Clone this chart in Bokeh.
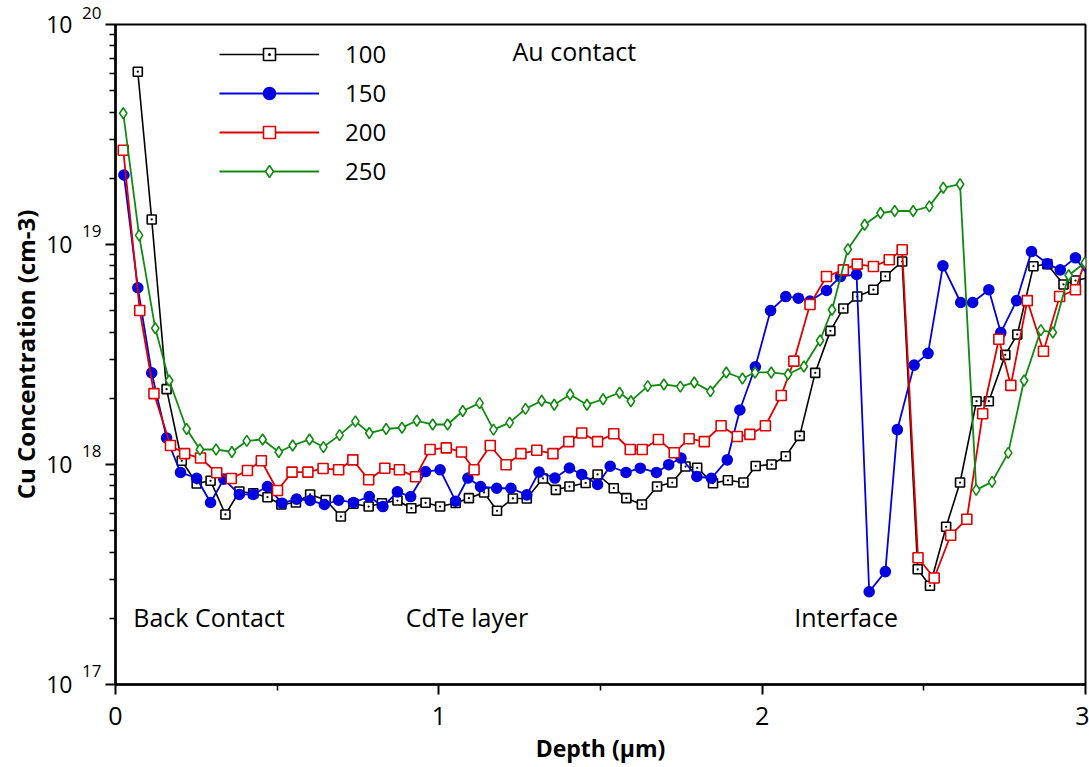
from bokeh.plotting import figure
from bokeh.models import (Range1d, FixedTicker, Legend, LegendItem, Label,
                          CustomJSTickFormatter, LogAxis)
from bokeh.embed import file_html
from bokeh.resources import INLINE

# ---------------- data ----------------
x100 = [0.069, 0.112, 0.158, 0.205, 0.251, 0.294, 0.340, 0.383, 0.426, 0.470,
        0.513, 0.558, 0.602, 0.650, 0.697, 0.736, 0.783, 0.824, 0.872, 0.915,
        0.959, 1.004, 1.052, 1.093, 1.140, 1.180, 1.229, 1.272, 1.322, 1.362,
        1.404, 1.454, 1.491, 1.541, 1.580, 1.628, 1.675, 1.722, 1.763, 1.799,
        1.848, 1.894, 1.942, 1.980, 2.029, 2.073, 2.116, 2.164, 2.211, 2.251,
        2.294, 2.344, 2.381, 2.433, 2.481, 2.519, 2.569, 2.612, 2.663, 2.701,
        2.752, 2.789, 2.839, 2.882, 2.932, 2.969, 3.025]
y100 = [6.1e19, 1.30e19, 2.2e18, 1.04e18, 8.2e17, 8.43e17, 5.93e17, 7.54e17, 7.40e17, 7.10e17,
        6.58e17, 6.72e17, 7.31e17, 6.90e17, 5.80e17, 6.63e17, 6.44e17, 6.67e17, 6.86e17, 6.33e17,
        6.70e17, 6.44e17, 6.68e17, 7.03e17, 7.46e17, 6.16e17, 7.01e17, 7.01e17, 8.64e17, 7.67e17,
        7.94e17, 8.24e17, 9.01e17, 7.80e17, 7.03e17, 6.58e17, 7.94e17, 8.28e17, 9.79e17, 9.66e17,
        8.22e17, 8.48e17, 8.28e17, 9.84e17, 1.00e18, 1.09e18, 1.35e18, 2.61e18, 4.05e18, 5.12e18,
        5.80e18, 6.23e18, 7.17e18, 8.37e18, 3.34e17, 2.81e17, 5.21e17, 8.28e17, 1.94e18, 1.94e18,
        3.15e18, 3.90e18, 7.97e18, 8.14e18, 6.58e18, 6.86e18, 7.15e18]

x150 = [0.026, 0.069, 0.112, 0.158, 0.201, 0.251, 0.294, 0.335, 0.383, 0.426,
        0.470, 0.515, 0.560, 0.602, 0.646, 0.690, 0.736, 0.785, 0.827, 0.872,
        0.913, 0.959, 1.004, 1.052, 1.090, 1.129, 1.179, 1.223, 1.272, 1.310,
        1.359, 1.404, 1.442, 1.491, 1.530, 1.579, 1.623, 1.673, 1.711, 1.749,
        1.798, 1.843, 1.892, 1.931, 1.979, 2.026, 2.073, 2.112, 2.148, 2.199,
        2.242, 2.292, 2.331, 2.381, 2.418, 2.470, 2.513, 2.559, 2.614, 2.651,
        2.701, 2.738, 2.787, 2.833, 2.882, 2.922, 2.969, 3.025]
y150 = [2.07e19, 6.36e18, 2.61e18, 1.32e18, 9.20e17, 8.66e17, 6.72e17, 8.58e17, 7.31e17, 7.31e17,
        7.94e17, 6.67e17, 6.96e17, 6.86e17, 6.58e17, 6.88e17, 6.72e17, 7.15e17, 6.44e17, 7.51e17,
        7.15e17, 9.29e17, 9.46e17, 6.81e17, 8.68e17, 7.94e17, 7.80e17, 7.80e17, 7.28e17, 9.24e17,
        8.68e17, 9.64e17, 9.01e17, 8.11e17, 9.82e17, 9.20e17, 9.62e17, 9.20e17, 9.98e17, 1.07e18,
        8.82e17, 8.66e17, 1.05e18, 1.77e18, 2.78e18, 5.01e18, 5.80e18, 5.70e18, 5.53e18, 6.18e18,
        7.15e18, 7.31e18, 2.64e17, 3.26e17, 1.44e18, 2.83e18, 3.20e18, 8.00e18, 5.45e18, 5.45e18,
        6.23e18, 3.98e18, 5.56e18, 9.29e18, 8.17e18, 7.67e18, 8.70e18, 6.65e18]

x200 = [0.024, 0.075, 0.119, 0.170, 0.214, 0.263, 0.313, 0.358, 0.408, 0.451,
        0.501, 0.546, 0.595, 0.642, 0.690, 0.734, 0.783, 0.833, 0.878, 0.928,
        0.973, 1.023, 1.070, 1.109, 1.159, 1.208, 1.254, 1.303, 1.353, 1.402,
        1.442, 1.491, 1.541, 1.592, 1.629, 1.679, 1.728, 1.774, 1.821, 1.873,
        1.923, 1.962, 2.010, 2.059, 2.098, 2.148, 2.199, 2.251, 2.294, 2.344,
        2.393, 2.433, 2.482, 2.532, 2.583, 2.633, 2.682, 2.732, 2.769, 2.820,
        2.870, 2.920, 2.969, 3.019]
y200 = [2.68e19, 5.01e18, 2.10e18, 1.22e18, 1.12e18, 1.07e18, 9.17e17, 8.64e17, 9.39e17, 1.04e18,
        7.62e17, 9.23e17, 9.23e17, 9.59e17, 9.46e17, 1.05e18, 8.52e17, 9.62e17, 9.46e17, 8.79e17,
        1.17e18, 1.19e18, 1.14e18, 9.46e17, 1.22e18, 9.97e17, 1.12e18, 1.16e18, 1.12e18, 1.27e18,
        1.39e18, 1.27e18, 1.38e18, 1.17e18, 1.17e18, 1.30e18, 1.13e18, 1.31e18, 1.27e18, 1.50e18,
        1.34e18, 1.37e18, 1.50e18, 2.06e18, 2.95e18, 5.34e18, 7.15e18, 7.67e18, 8.14e18, 7.94e18,
        8.52e18, 9.46e18, 3.77e17, 3.05e17, 4.77e17, 5.64e17, 1.70e18, 3.71e18, 2.29e18, 5.56e18,
        3.27e18, 5.80e18, 6.23e18, 1.03e19]

x250 = [0.024, 0.073, 0.123, 0.166, 0.220, 0.261, 0.311, 0.360, 0.406, 0.455,
        0.505, 0.548, 0.600, 0.643, 0.693, 0.742, 0.785, 0.837, 0.886, 0.932,
        0.981, 1.027, 1.074, 1.126, 1.169, 1.219, 1.268, 1.318, 1.357, 1.406,
        1.458, 1.508, 1.559, 1.594, 1.646, 1.696, 1.747, 1.790, 1.840, 1.889,
        1.939, 1.978, 2.028, 2.080, 2.129, 2.179, 2.216, 2.265, 2.317, 2.366,
        2.410, 2.467, 2.517, 2.560, 2.612, 2.662, 2.711, 2.761, 2.810, 2.862,
        2.899, 2.948, 2.998]
y250 = [3.95e19, 1.10e19, 4.16e18, 2.41e18, 1.45e18, 1.17e18, 1.17e18, 1.14e18, 1.28e18, 1.30e18,
        1.14e18, 1.22e18, 1.30e18, 1.20e18, 1.36e18, 1.57e18, 1.39e18, 1.45e18, 1.47e18, 1.58e18,
        1.52e18, 1.52e18, 1.75e18, 1.90e18, 1.44e18, 1.55e18, 1.79e18, 1.95e18, 1.87e18, 2.08e18,
        1.87e18, 1.98e18, 2.12e18, 1.94e18, 2.27e18, 2.31e18, 2.26e18, 2.36e18, 2.15e18, 2.62e18,
        2.46e18, 2.62e18, 2.62e18, 2.57e18, 2.79e18, 3.66e18, 5.05e18, 9.52e18, 1.23e19, 1.39e19,
        1.42e19, 1.42e19, 1.49e19, 1.81e19, 1.88e19, 7.67e17, 8.34e17, 1.13e18, 2.41e18, 4.08e18,
        3.98e18, 7.25e18, 8.26e18]

series_names = ["100", "150", "200", "250"]
x_ticks = [0, 1, 2, 3]
x_minor = [0.5, 1.5, 2.5]
y_ticks = [1e17, 1e18, 1e19, 1e20]
y_minor = [m * 10 ** e for e in (17, 18, 19) for m in range(2, 10)]

FONT = "Open Sans"

p = figure(width=1089, height=767,
           x_range=Range1d(0, 3), y_range=Range1d(1e17, 1e20),
           y_axis_type="log", output_backend="svg", toolbar_location=None,
           min_border_left=115, min_border_right=4,
           min_border_top=24, min_border_bottom=83)
p.background_fill_color = "white"
p.border_fill_color = "white"
p.outline_line_color = "black"
p.outline_line_width = 2
p.xgrid.visible = False
p.ygrid.visible = False

# x axis
xa = p.xaxis[0]
xa.ticker = FixedTicker(ticks=x_ticks, minor_ticks=x_minor)
xa.major_label_standoff = 12
xa.axis_label = "Depth (µm)"
xa.axis_label_standoff = 4

# inner y axis: line, ticks and the (raised) exponents
ya = p.yaxis[0]
ya.ticker = FixedTicker(ticks=y_ticks, minor_ticks=y_minor)
ya.formatter = CustomJSTickFormatter(
    code="return String(Math.round(Math.log10(tick))) + '\\n';")
ya.major_label_standoff = 4
ya.major_label_text_font_size = "17px"

for ax in (xa, ya):
    ax.axis_line_width = 2.5
    ax.axis_line_color = "black"
    ax.major_tick_line_width = 2
    ax.minor_tick_line_width = 1.5
    ax.major_tick_in = 0
    ax.minor_tick_in = 0
    ax.major_tick_out = 10
    ax.minor_tick_out = 6
    ax.major_label_text_font = FONT
    ax.major_label_text_color = "black"
    ax.axis_label_text_font = FONT
    ax.axis_label_text_font_style = "bold"
    ax.axis_label_text_font_size = "23px"
    ax.axis_label_text_color = "black"
xa.major_label_text_font_size = "25px"

# outer y axis: the "10" bases and the axis title
yb = LogAxis(ticker=FixedTicker(ticks=y_ticks, minor_ticks=[]),
             formatter=CustomJSTickFormatter(code="return '10';"),
             axis_line_color=None, major_tick_line_color=None,
             minor_tick_line_color=None, major_tick_out=0, minor_tick_out=0,
             major_tick_in=0, minor_tick_in=0,
             major_label_standoff=7, major_label_text_font=FONT,
             major_label_text_font_size="23px", major_label_text_color="black",
             axis_label="Cu Concentration (cm-3)", axis_label_standoff=1,
             axis_label_text_font=FONT, axis_label_text_font_style="bold",
             axis_label_text_font_size="24px", axis_label_text_color="black")
p.add_layout(yb, "left")

styles = [
    dict(color="#000000", marker="square_dot", size=9, fill="white", lw=1.6),
    dict(color="#0000e0", marker="circle", size=10, fill="#0000e0", lw=1.8),
    dict(color="#e00000", marker="square", size=10, fill="white", lw=1.8),
    dict(color="#118a11", marker="diamond", size=11, fill="white", lw=1.8),
]
xs = [x100, x150, x200, x250]
ys = [y100, y150, y200, y250]

items = []
for name, xv, yv, st in zip(series_names, xs, ys, styles):
    ln = p.line(xv, yv, line_color=st["color"], line_width=st["lw"])
    sc = p.scatter(xv, yv, marker=st["marker"], size=st["size"],
                   line_color=st["color"], fill_color=st["fill"], line_width=1.6)
    items.append(LegendItem(label=name, renderers=[ln, sc]))

legend = Legend(items=items, location=(104, 497), margin=0, padding=0,
                glyph_width=100, glyph_height=30, label_height=30, spacing=6,
                label_standoff=26, label_text_font=FONT,
                label_text_font_size="24px", label_text_color="black",
                border_line_color=None, background_fill_alpha=0)
p.add_layout(legend)

# annotations
for txt, xv, yv in [("Au contact", 1.228, 7.6e19), ("Back Contact", 0.055, 2.02e17),
                    ("CdTe layer", 0.898, 2.02e17), ("Interface", 2.099, 2.02e17)]:
    p.add_layout(Label(x=xv, y=yv, text=txt, text_font=FONT, text_font_size="25px",
                       text_baseline="middle", text_align="left", text_color="black"))

open("out.html", "w").write(file_html(p, INLINE))
